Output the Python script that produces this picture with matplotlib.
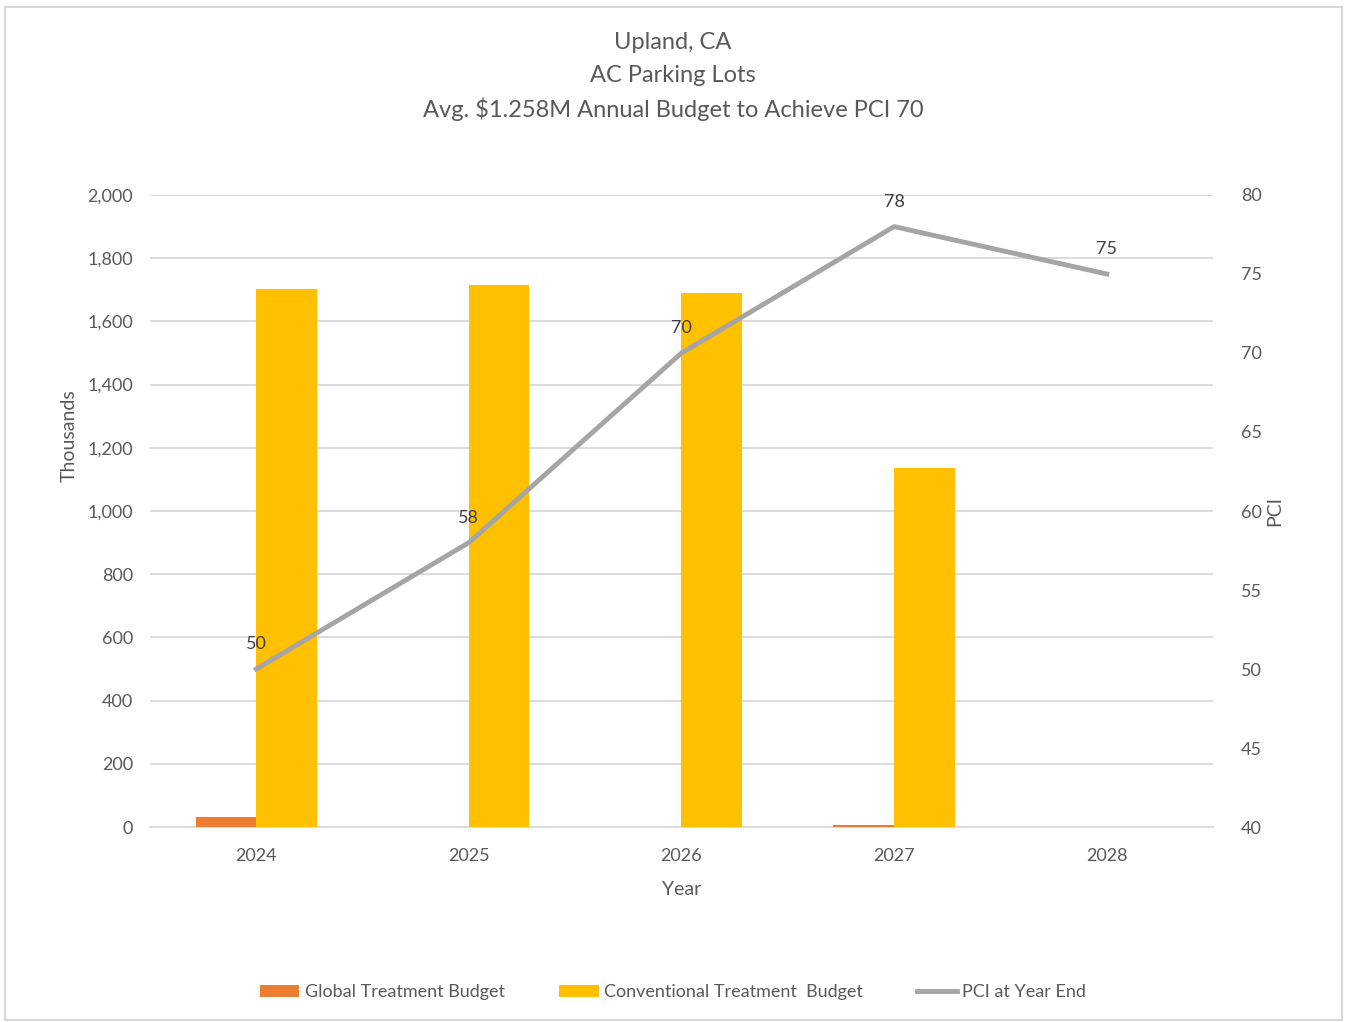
import matplotlib.pyplot as plt
import matplotlib.patches as mpatches
import numpy as np

plt.rcParams['font.family'] = ['Lato', 'DejaVu Sans']

years = ["2024", "2025", "2026", "2027", "2028"]
global_budget = [33, 0, 0, 6, 0]
conventional_budget = [1704, 1716, 1690, 1136, 0]
pci = [50, 58, 70, 78, 75]

text_color = "#595959"
grid_color = "#D9D9D9"

fig = plt.figure(figsize=(13.46, 10.22), dpi=100)
fig.patches.append(mpatches.Rectangle((0.004, 0.002), 0.993, 0.991, transform=fig.transFigure,
                                      fill=False, edgecolor="#D0D0D0", linewidth=1.2))
ax = fig.add_axes([0.1114, 0.1908, 0.7898, 0.6184])
x = np.arange(len(years))
w = 0.285

ax.bar(x - w / 2, global_budget, w, color="#ED7D31", label="Global Treatment Budget", zorder=3)
ax.bar(x + w / 2, conventional_budget, w, color="#FFC000", label="Conventional Treatment  Budget", zorder=3)

ax.set_ylim(0, 2000)
ax.set_xlim(-0.5, 4.5)
ax.set_yticks(range(0, 2001, 200))
ax.set_yticklabels([f"{v:,}" for v in range(0, 2001, 200)])
ax.set_xticks(x)
ax.set_xticklabels(years)
ax.grid(axis="y", color=grid_color, linewidth=1.3, zorder=0)
for s in ["top", "right", "left"]:
    ax.spines[s].set_visible(False)
ax.spines["bottom"].set_color(grid_color)
ax.spines["bottom"].set_linewidth(1.3)
ax.tick_params(axis="y", length=0, labelsize=13, colors=text_color, pad=12)
ax.tick_params(axis="x", length=0, labelsize=13, colors=text_color, pad=15)
ax.set_ylabel("Thousands", fontsize=14, color=text_color)
ax.yaxis.set_label_coords(-0.068, 0.62)
ax.set_xlabel("Year", fontsize=14, color=text_color, labelpad=12)

ax2 = ax.twinx()
ax2.plot(x, pci, color="#A5A5A5", linewidth=3.5, label="PCI at Year End", zorder=4)
for xi, v in zip(x, pci):
    ax2.annotate(str(v), (xi, v), xytext=(0, 12), textcoords="offset points",
                 ha="center", va="bottom", fontsize=13, color="#404040")
ax2.set_ylim(40, 80)
ax2.set_yticks(range(40, 81, 5))
for s in ["top", "right", "left", "bottom"]:
    ax2.spines[s].set_visible(False)
ax2.tick_params(length=0, labelsize=13, colors=text_color, pad=20)
ax2.set_ylabel("PCI", fontsize=14, color=text_color)
ax2.yaxis.set_label_coords(1.05, 0.5)

fig.text(0.5, 0.958, "Upland, CA", ha="center", va="center", fontsize=17, color=text_color)
fig.text(0.5, 0.926, "AC Parking Lots", ha="center", va="center", fontsize=17, color=text_color)
fig.text(0.5, 0.893, "Avg. $1.258M Annual Budget to Achieve PCI 70", ha="center", va="center",
         fontsize=17, color=text_color)

h1, l1 = ax.get_legend_handles_labels()
h2, l2 = ax2.get_legend_handles_labels()
fig.legend(h1 + h2, l1 + l2, loc="center", bbox_to_anchor=(0.5, 0.029), ncol=3, frameon=False,
           fontsize=13, labelcolor=text_color, handlelength=2.2, handletextpad=0.3,
           columnspacing=3.0)

fig.savefig("out.png", dpi=100)
